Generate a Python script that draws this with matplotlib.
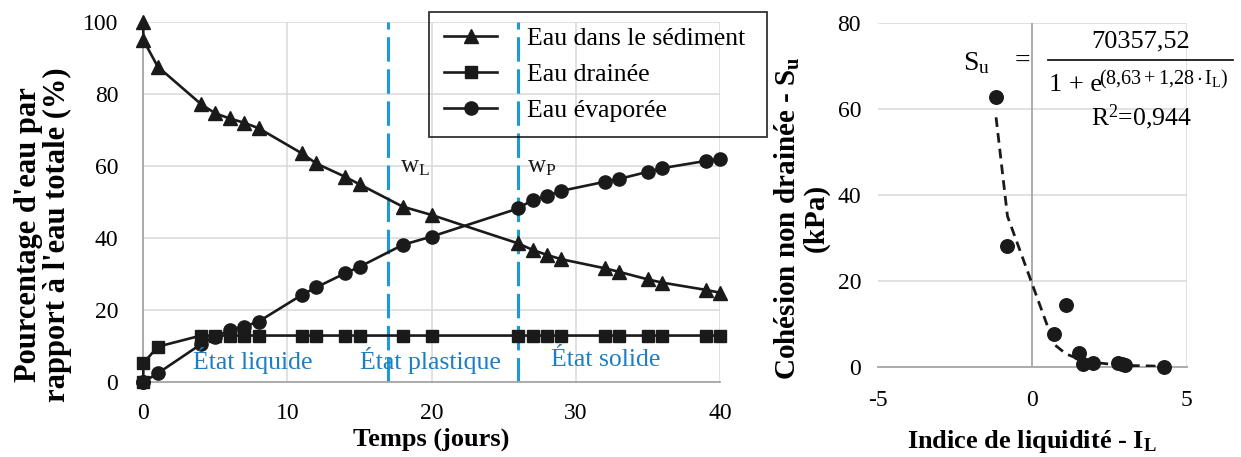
import matplotlib
matplotlib.use("Agg")
import matplotlib.pyplot as plt
from matplotlib.lines import Line2D

plt.rcParams['font.family'] = 'Liberation Serif'
plt.rcParams['mathtext.fontset'] = 'custom'
plt.rcParams['mathtext.rm'] = 'Liberation Serif'
plt.rcParams['mathtext.it'] = 'Liberation Serif:italic'
plt.rcParams['mathtext.bf'] = 'Liberation Serif:bold'

# --- left panel data (days, % of total water)
jours = [0, 0, 1, 4, 5, 6, 7, 8, 11, 12, 14, 15, 18, 20,
         26, 27, 28, 29, 32, 33, 35, 36, 39, 40]
eau_sediment = [100, 95, 87.6, 77.2, 74.6, 73.2, 72.0, 70.5, 63.5, 60.7, 57.0, 54.9,
                48.7, 46.4, 38.5, 36.7, 35.3, 34.1, 31.6, 30.6, 28.5, 27.6, 25.6, 24.8]
eau_drainee = [0, 5.2, 9.8, 12.9, 12.9, 12.9, 12.9, 12.9, 12.9, 12.9, 12.9, 12.9,
               12.9, 12.9, 12.9, 12.9, 12.9, 12.9, 12.9, 12.9, 12.9, 12.9, 12.9, 12.9]
eau_evaporee = [0, 0, 2.4, 10.5, 12.6, 14.4, 15.4, 16.8, 24.2, 26.3, 30.2, 32.0,
                38.1, 40.4, 48.2, 50.6, 51.7, 53.1, 55.6, 56.4, 58.4, 59.4, 61.4, 61.9]
series_labels = ["Eau dans le sédiment", "Eau drainée", "Eau évaporée"]
limites = [17, 26]           # w_L, w_P
limite_labels = [r"$\mathregular{w_L}$", r"$\mathregular{w_P}$"]
etats = ["État liquide", "État plastique", "État solide"]
etats_x = [7.6, 19.9, 32.1]

# --- right panel data
indice_liq = [-1.17, -0.8, 1.09, 0.71, 1.5, 1.63, 1.98, 2.79, 2.9, 3.0, 4.27]
cohesion = [62.8, 28.1, 14.3, 7.6, 3.1, 0.6, 0.9, 0.9, 0.7, 0.5, 0.0]
fit_il = [-1.17, -0.8, 0.71, 1.09, 1.5, 1.63, 1.98, 2.79, 2.9, 3.0, 4.27]
fit_su = [58, 35, 5.2, 3.0, 1.8, 1.5, 1.0, 0.4, 0.3, 0.3, 0.1]

W, H = 1241, 457
fig = plt.figure(figsize=(W / 100, H / 100), dpi=100)

def box(l, r, t, b):
    return [l / W, 1 - b / H, (r - l) / W, (b - t) / H]

grid_c = '#d9d9d9'
axis_c = '#a6a6a6'
blue = '#1b9ad6'
blue_txt = '#1f7dc2'
ink = '#1a1a1a'

# ---------------- left panel
ax = fig.add_axes(box(143.3, 720, 22, 382))
ax.set_xlim(0, 40)
ax.set_ylim(0, 100)
ax.set_xticks([0, 10, 20, 30, 40])
ax.set_yticks([0, 20, 40, 60, 80, 100])
ax.grid(True, color=grid_c, lw=1.1)
ax.set_axisbelow(True)
for s in ["top", "right"]:
    ax.spines[s].set_visible(False)
for s in ["left", "bottom"]:
    ax.spines[s].set_color(axis_c)
    ax.spines[s].set_linewidth(1.3)
ax.tick_params(length=0, labelsize=17)
ax.tick_params(axis='y', pad=18)
ax.tick_params(axis='x', pad=15)

for xv in limites:
    ax.axvline(xv, color=blue, lw=2.2, linestyle=(0, (8, 2.5)), zorder=2)

style = dict(color=ink, lw=1.9, clip_on=False, zorder=4)
ax.plot(jours, eau_sediment, marker='^', ms=10.5, **style)
ax.plot(jours, eau_drainee, marker='s', ms=9, **style)
ax.plot(jours, eau_evaporee, marker='o', ms=9.5, **style)

ax.text(17.8, 59.7, limite_labels[0], fontsize=18, ha='left', va='center', color=ink)
ax.text(26.6, 59.7, limite_labels[1], fontsize=18, ha='left', va='center', color=ink)
for x, s in zip(etats_x, etats):
    ax.text(x, 6.1, s, fontsize=18.5, color=blue_txt, ha='center', va='center', zorder=6)

ax.set_xlabel("Temps (jours)", fontsize=19, fontweight='bold', labelpad=3)
fig.text(43 / W, 1 - 235 / H, "Pourcentage d'eau par\nrapport à l'eau totale (%)",
         rotation=90, ha='center', va='center', fontsize=22, fontweight='bold',
         linespacing=1.0)

handles = [Line2D([], [], color=ink, lw=1.9, marker=m, ms=ms)
           for m, ms in [('^', 10.5), ('s', 9), ('o', 9.5)]]
leg = fig.legend(handles, series_labels, loc='upper left',
                 bbox_to_anchor=(429 / W, 1 - 136 / H, (767 - 429) / W, (136 - 12) / H),
                 mode='expand', fontsize=18.5, frameon=True, fancybox=False,
                 handlelength=2.05, handletextpad=1.15, labelspacing=0.5,
                 borderpad=0.6, numpoints=1, borderaxespad=0)
leg.get_frame().set_edgecolor('black')
leg.get_frame().set_linewidth(1.3)
leg.get_frame().set_facecolor('none')

# ---------------- right panel
bx = fig.add_axes(box(877.7, 1186.7, 22.7, 366.7))
bx.set_xlim(-5, 5)
bx.set_ylim(0, 80)
bx.set_xticks([-5, 0, 5])
bx.set_yticks([0, 20, 40, 60, 80])
bx.grid(True, axis='y', color=grid_c, lw=1.1)
bx.axvline(5, color=grid_c, lw=1.1, zorder=0)
bx.axvline(0, color=axis_c, lw=1.3, zorder=1)
bx.set_axisbelow(True)
for s in ["top", "right", "left"]:
    bx.spines[s].set_visible(False)
bx.spines["bottom"].set_color(axis_c)
bx.spines["bottom"].set_linewidth(1.3)
bx.tick_params(length=0, labelsize=17)
bx.tick_params(axis='y', pad=12)
bx.tick_params(axis='x', pad=17)
bx.xaxis.set_major_formatter(matplotlib.ticker.FuncFormatter(lambda v, p: "%d" % v))

bx.scatter(indice_liq, cohesion, s=95, color=ink, zorder=4, clip_on=False)
bx.plot(fit_il, fit_su, color=ink, lw=2.0, linestyle=(0, (3.5, 2.2)), zorder=5)

# fitted equation
bx.text(-1.79, 70.6, r"$\mathregular{S_u}$", fontsize=20, ha='center', va='center')
bx.text(-0.3, 70.9, "=", fontsize=20, ha='center', va='center')
bx.plot([0.52, 6.5], [71.3, 71.3], color=ink, lw=1.3, clip_on=False)
bx.text(3.5, 75.6, "70357,52", fontsize=19, ha='center', va='center')
bx.text(0.55, 65.4, "1 + e", fontsize=19, ha='left', va='center')
bx.text(2.15, 66.9, r"$\mathregular{(8{,}63+1{,}28\cdot I_L)}$", fontsize=14.5,
        ha='left', va='center')
bx.text(3.55, 58.1, r"R$^2$=0,944", fontsize=18.5, ha='center', va='center')

bx.set_xlabel(r"Indice de liquidité - $\mathbf{I_L}$", fontsize=19, fontweight='bold',
              labelpad=12)
fig.text(801 / W, 1 - 218 / H, "Cohésion non drainée - $\\mathbf{S_u}$\n(kPa)",
         rotation=90, ha='center', va='center', fontsize=21, fontweight='bold',
         linespacing=1.0)

fig.savefig("out.png", dpi=100)
